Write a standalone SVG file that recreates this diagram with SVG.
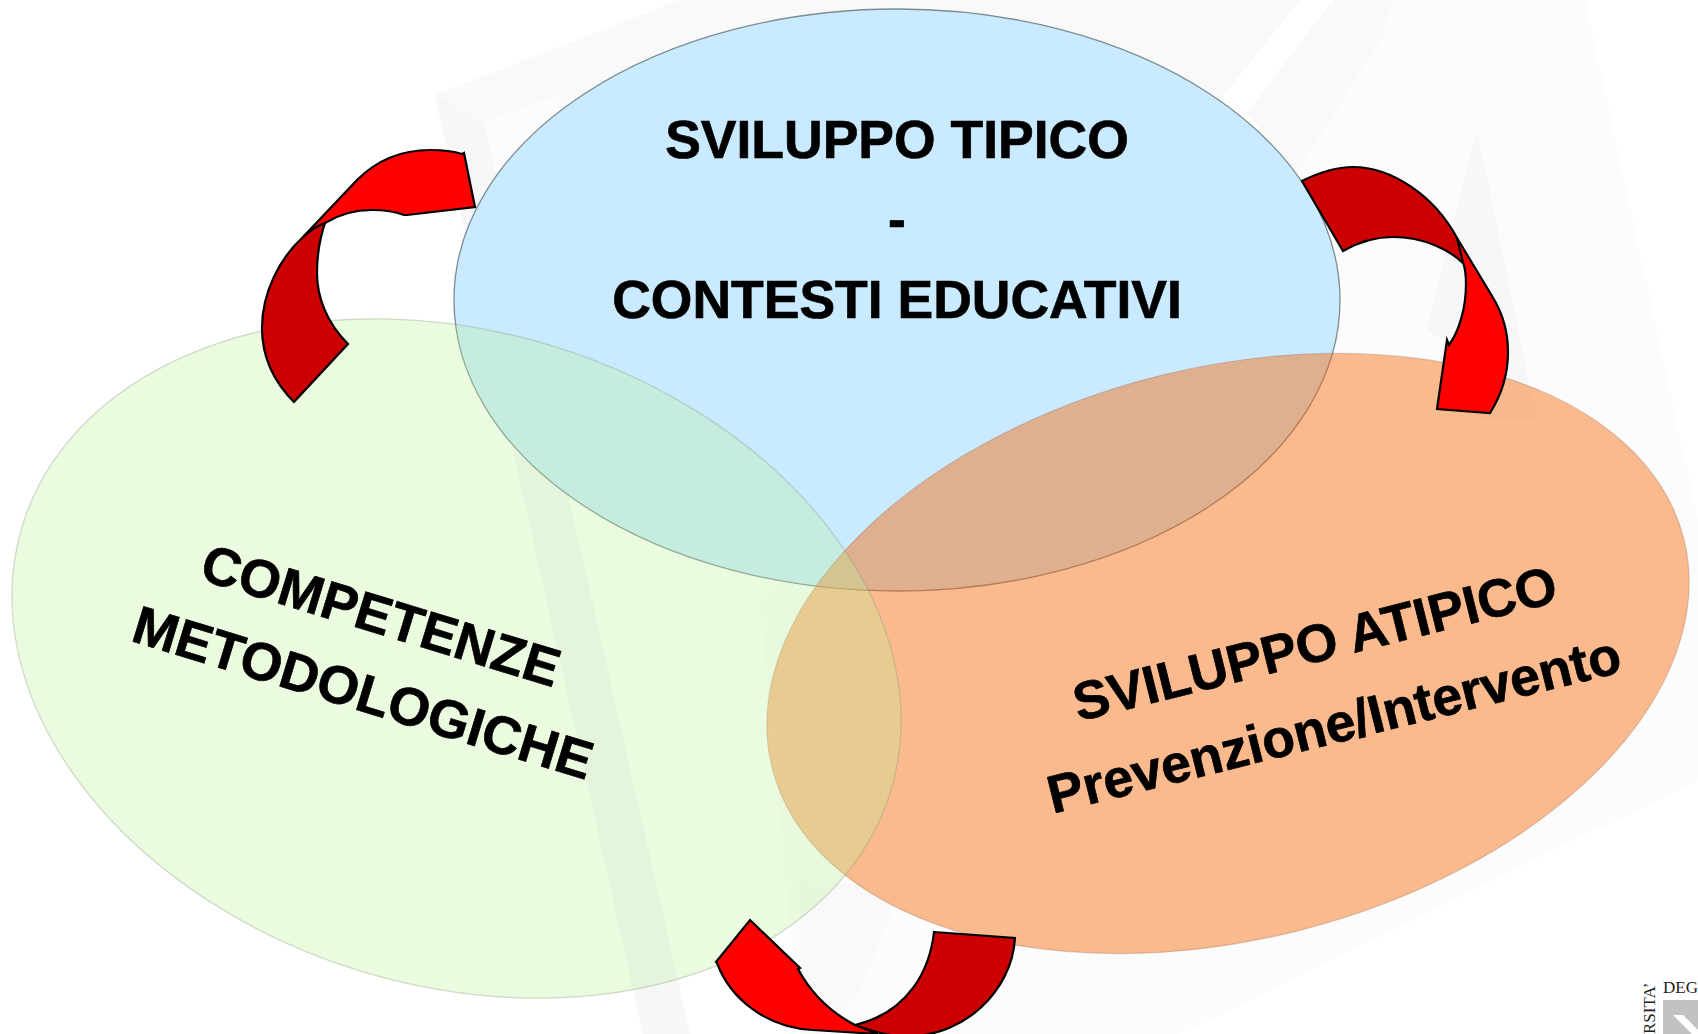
<svg xmlns="http://www.w3.org/2000/svg" width="1698" height="1034" viewBox="0 0 1698 1034">
<style>
.t{font-family:"Liberation Sans",Arial,sans-serif;font-weight:700;fill:#000;stroke:#000;stroke-width:.7;text-anchor:middle;font-size:53.5px}
.a{stroke:#000;stroke-width:2.2;stroke-linejoin:miter}
.l{fill:#f00}.d{fill:#c00}
.w1{fill:#f9f9f9}.w2{fill:#f6f7f9}.w3{fill:#fcfcfc}
.s{font-family:"Liberation Serif",serif;font-size:17px;fill:#222}
</style>
<rect width="1698" height="1034" fill="#fff"/>
<g id="watermark">
<polygon class="w3" points="1392,0 1585,0 1698,520 1698,780 1180,1034 800,1034 760,600 1297,173 1383,37"/>
<polygon class="w1" points="435,95 680,0 1300,0 1220,100 1100,120 484,122"/>
<polygon class="w3" points="484,122 560,95 560,300 500,200"/>
<polygon class="w2" points="435,95 484,122 500,190 470,260 464,230"/>
<polygon class="w1" points="1333,0 1392,0 1383,37 1297,173 1247,113"/>
<polygon class="w2" points="1477,130 1537,420 1480,420 1448,343 1427,330"/>
<polygon class="w2" points="513,450 567,490 690,1034 643,1034"/>
<polygon class="w1" points="800,880 900,890 860,990 820,1034 800,1034"/>
</g>
<g id="logo">
<rect x="1663" y="1000" width="35" height="34" fill="#c2c2c2"/>
<polygon points="1673,1015 1683,1015 1698,1030 1698,1034 1692,1034" fill="#fff"/>
<text class="s" x="1663" y="993">DEG</text>
<text class="s" transform="translate(1655,1034) rotate(-90)">RSITA’</text>
</g>
<g id="node-sviluppo-tipico">
<ellipse cx="897" cy="300" rx="443" ry="291" fill="#c9eaff" stroke="#7c8c94" stroke-width="1.3"/>
</g>
<g id="node-sviluppo-atipico">
<ellipse cx="1228" cy="653.5" rx="470" ry="286" transform="rotate(-14.1 1228 653.5)" fill="#f86a08" fill-opacity=".45" stroke="#a0705a" stroke-opacity=".35" stroke-width="1.2"/>
</g>
<g id="node-competenze">
<ellipse cx="456.5" cy="658.5" rx="454" ry="327" transform="rotate(17 456.5 658.5)" fill="#bcf294" fill-opacity=".3" stroke="#8a9a80" stroke-opacity=".35" stroke-width="1.3"/>
</g>
<g id="connectors">
<g id="arrow-top-left">
<path class="a d" d="M303,237C280,258 262,292 262,328C262,358 274,382 294,402L348,344C326,322 317,296 317,273C317,255 320,238 325,223C316,226 309,231 303,237Z"/>
<path class="a l" d="M464,153L475,207L407,215L404,215C396,212 385,210 372,210C355,210 338,215 325,223C316,226 309,231 303,237L357,180C377,160 400,150 430,150C443,150 453,151 462,154Z"/>
</g>
<g id="arrow-top-right">
<path class="a d" d="M1302,181C1320,172 1337,167 1353,167C1391,167 1434,195 1457,238L1464,264C1450,250 1424,237 1393,237C1374,237 1357,243 1343,251Z"/>
<path class="a l" d="M1457,238L1492,296C1502,312 1508,332 1508,352C1508,374 1502,394 1490,413L1437,409L1447,340L1449,345C1460,330 1466,306 1466,284C1466,276 1465,268 1463,262C1461,254 1459,246 1457,238Z"/>
</g>
<g id="arrow-bottom">
<path class="a d" d="M934,932L1015,938C1012,992 963,1036 910,1036C890,1036 880,1034 855,1025C910,1012 930,968 934,932Z"/>
<path class="a l" d="M750,920L800,968L798,969C812,995 830,1012 855,1025L878,1034L813,1030C766,1028 730,998 717,963L716,962Z"/>
</g>
</g>
<g id="labels">
<text class="t" x="897" y="158">SVILUPPO TIPICO</text>
<text class="t" x="897" y="238">-</text>
<text class="t" x="897" y="318">CONTESTI EDUCATIVI</text>
<text class="t" transform="translate(381,616) rotate(17)" y="18">COMPETENZE</text>
<text class="t" transform="translate(363,693) rotate(17)" y="18">METODOLOGICHE</text>
<text class="t" transform="translate(1315,644) rotate(-14)" y="18">SVILUPPO ATIPICO</text>
<text class="t" transform="translate(1334,725) rotate(-14)" y="18">Prevenzione/Intervento</text>
</g>
</svg>
